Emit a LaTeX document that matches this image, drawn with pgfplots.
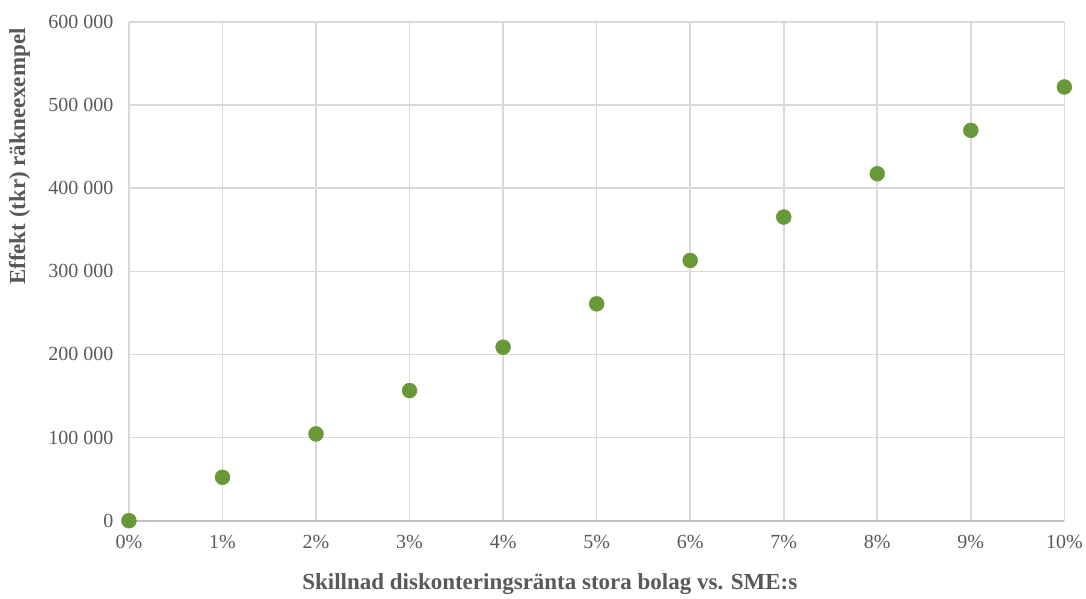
\documentclass[border=0pt]{standalone}
\usepackage{fontspec}
\setmainfont{Liberation Serif}
\usepackage{pgfplots}
\pgfplotsset{compat=1.18}

\definecolor{dotgreen}{RGB}{104,152,56}
\definecolor{gridgray}{RGB}{217,217,217}
\definecolor{axisgray}{RGB}{191,191,191}
\definecolor{textgray}{RGB}{89,89,89}

\begin{document}
\begin{tikzpicture}[x=1pt,y=1pt]
\path (0,0) rectangle (1086,599);
\begin{axis}[
    at={(129pt,78pt)},
    anchor=south west,
    scale only axis,
    width=936pt,
    height=499pt,
    xmin=0, xmax=10,
    ymin=0, ymax=600000,
    xtick={0,1,...,10},
    ytick={0,100000,...,600000},
    xticklabel={\pgfmathprintnumber{\tick}\%},
    yticklabels={0,100 000,200 000,300 000,400 000,500 000,600 000},
    /pgf/number format/assume math mode=true,
    scaled y ticks=false,
    major tick length=0pt,
    grid=major,
    major grid style={draw=gridgray, line width=1.6pt},
    axis line style={draw=none},
    ticklabel style={font=\fontsize{20}{23}\selectfont, text=textgray},
    xticklabel style={yshift=-11pt},
    yticklabel style={xshift=-12pt},
    xlabel={Skillnad diskonteringsränta stora bolag vs. SME:s},
    ylabel={Effekt (tkr) räkneexempel},
    label style={font=\bfseries\fontsize{23}{27}\selectfont, text=textgray},
    xlabel style={at={(axis description cs:0.45,0)}, anchor=center, yshift=-63pt},
    ylabel style={at={(axis description cs:-0.117,0.73)}, anchor=center},
    clip=false,
]
\draw[axisgray, line width=1.8pt] (axis cs:0,0) -- (axis cs:10,0);
\addplot[only marks, mark=*, mark size=7.5pt,
    mark options={fill=dotgreen, draw=dotgreen}] coordinates {
    (0,0) (1,52200) (2,104400) (3,156500) (4,208700) (5,260900)
    (6,313100) (7,365300) (8,417400) (9,469600) (10,521800)
};
\end{axis}
\end{tikzpicture}
\end{document}
